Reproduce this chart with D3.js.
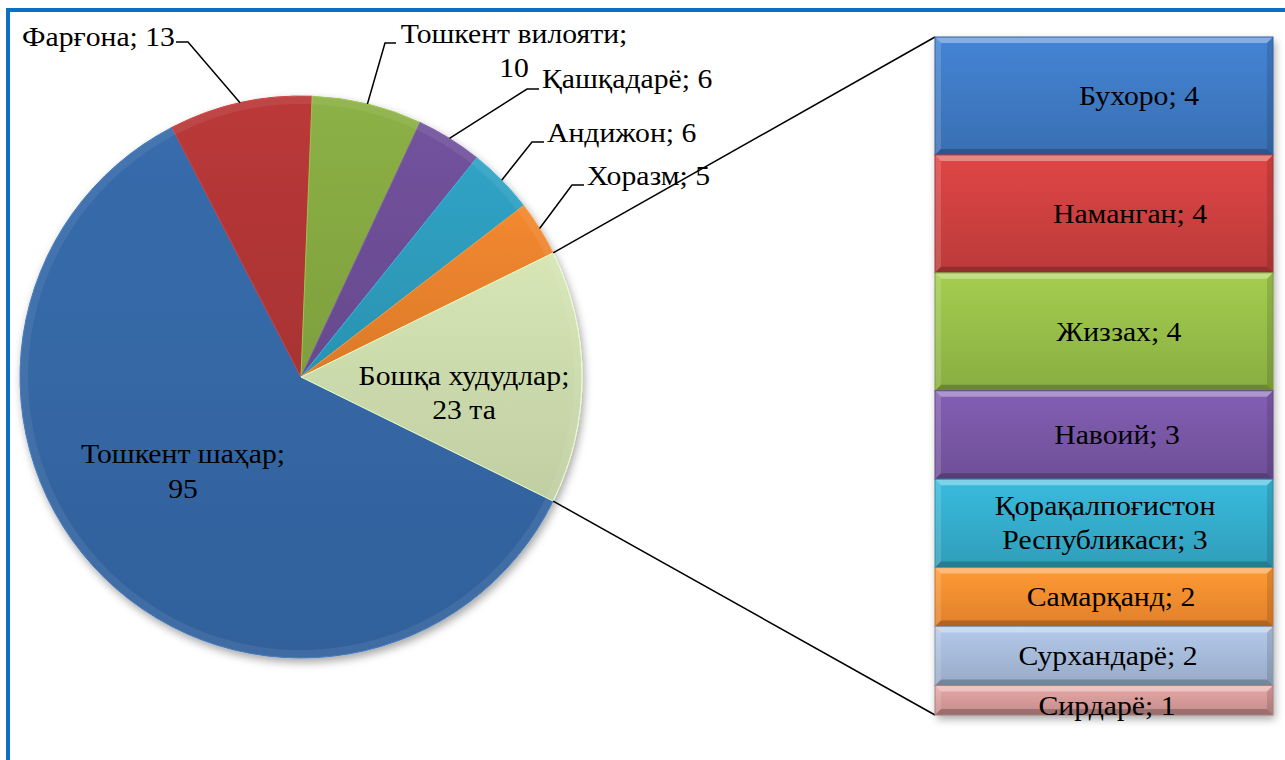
<!DOCTYPE html>
<html>
<head>
<meta charset="utf-8">
<script src="https://cdn.jsdelivr.net/npm/d3@7"></script>
<style>
  body { margin: 0; background: #fff; }
  svg text { font-family: "Liberation Serif", "Times New Roman", serif; fill: #000; }
</style>
</head>
<body>
<svg id="chart" width="1285" height="760"></svg>
<script>
// pie slices (main regions)
const pieNames = ["Тошкент шаҳар", "Фарғона", "Тошкент вилояти", "Қашқадарё", "Андижон", "Хоразм"];
const pieValues = [95, 13, 10, 6, 6, 5];
const pieColors = ["#3567a5", "#b33636", "#86aa42", "#6d4f96", "#2e9cbd", "#e9822d"];

// secondary bar (the "other" slice broken down)
const otherName = "Бошқа худудлар";
const otherText = "23 та";
const otherColor = "#cddcad";
const barNames = ["Бухоро", "Наманган", "Жиззах", "Навоий", "Қорақалпоғистон Республикаси", "Самарқанд", "Сурхандарё", "Сирдарё"];
const barValues = [4, 4, 4, 3, 3, 2, 2, 1];
const barColors = ["#3f7bc6", "#d04140", "#99c04a", "#7a58a8", "#35afcf", "#f98f30", "#a8bcdc", "#d89c9b"];

// label layout (where Excel put them)
const outerLabels = [
  null,
  { lines: ["Фарғона; 13"], x: 22, y: 46, anchor: "start", elbow: [[188, 42], [176, 42]] },
  { lines: ["Тошкент вилояти;", "10"], x: 514, y: 43, anchor: "middle", elbow: [[385, 43], [396, 43]] },
  { lines: ["Қашқадарё; 6"], x: 542, y: 88, anchor: "start", elbow: [[527, 89], [539, 89]] },
  { lines: ["Андижон; 6"], x: 547, y: 142, anchor: "start", elbow: [[532, 142], [544, 142]] },
  { lines: ["Хоразм; 5"], x: 587, y: 185, anchor: "start", elbow: [[572, 185], [584, 185]] }
];
const innerLabelPos = [[183, 463], [464, 385]];
const barLabelDx = [35, 26, 15, 13, 1, 7, 4, 3];

const fontSize = 27, stretch = 1.1;
const svg = d3.select("#chart");
const defs = svg.append("defs");

const shadow = defs.append("filter").attr("id", "shadow")
  .attr("x", "-10%").attr("y", "-10%").attr("width", "130%").attr("height", "130%");
shadow.append("feDropShadow").attr("dx", 2).attr("dy", 4).attr("stdDeviation", 4)
  .attr("flood-color", "#000").attr("flood-opacity", 0.35);

function gradient(id, c, light, dark) {
  const g = defs.append("linearGradient").attr("id", id)
    .attr("x1", 0).attr("y1", 0).attr("x2", 0).attr("y2", 1);
  g.append("stop").attr("offset", "0%").attr("stop-color", d3.color(c).brighter(light));
  g.append("stop").attr("offset", "100%").attr("stop-color", d3.color(c).darker(dark));
  return `url(#${id})`;
}

// frame (only top and left edges are in view)
svg.append("path").attr("d", "M8,760 V10 H1285")
  .attr("fill", "none").attr("stroke", "#0b6fc2").attr("stroke-width", 4);

function addText(g, lines, x, y, anchor, lh) {
  const t = g.append("text")
    .attr("transform", `translate(${x},${y}) scale(${stretch},1)`)
    .attr("text-anchor", anchor)
    .style("font-size", fontSize + "px");
  lines.forEach((s, i) => t.append("tspan").attr("x", 0).attr("y", i * lh).text(s));
  return t;
}

// ---- pie ----
const cx = 301, cy = 377, r = 281;
const otherValue = d3.sum(barValues);
const total = d3.sum(pieValues) + otherValue;
const otherSpan = 2 * Math.PI * otherValue / total;
const start = Math.PI / 2 + otherSpan / 2;

const pieData = pieNames.map((n, i) => ({ name: n, value: pieValues[i], color: pieColors[i] }))
  .concat([{ name: otherName, value: otherValue, color: otherColor }]);

const pie = d3.pie().sort(null).value(d => d.value).startAngle(start).endAngle(start + 2 * Math.PI);
const arcs = pie(pieData);
const arc = d3.arc().innerRadius(0).outerRadius(r);
const rim = d3.arc().innerRadius(r - 8).outerRadius(r);

const pg = svg.append("g").attr("transform", `translate(${cx},${cy})`);
const slices = pg.append("g").attr("filter", "url(#shadow)");
slices.selectAll("path.slice").data(arcs).join("path")
  .attr("class", "slice")
  .attr("d", arc)
  .attr("fill", (d, i) => gradient("pg" + i, d.data.color, 0.12, 0.18))
  .attr("stroke", (d) => d3.color(d.data.color).brighter(0.4))
  .attr("stroke-width", 1);
// bevel rim
pg.selectAll("path.rim").data(arcs).join("path")
  .attr("class", "rim")
  .attr("d", rim)
  .attr("fill", "#fff").attr("opacity", 0.07);

// leader lines + outer labels
const lg = svg.append("g");
arcs.forEach((d, i) => {
  const L = outerLabels[i];
  if (!L) return;
  const a = (d.startAngle + d.endAngle) / 2;
  const px = cx + r * Math.sin(a), py = cy - r * Math.cos(a);
  const pts = [[px, py]].concat(L.elbow);
  lg.append("path").attr("d", d3.line()(pts))
    .attr("fill", "none").attr("stroke", "#000").attr("stroke-width", 1.5);
  addText(lg, L.lines, L.x, L.y, L.anchor, 34);
});

// inner labels
addText(svg, [pieNames[0] + ";", String(pieValues[0])], innerLabelPos[0][0], innerLabelPos[0][1], "middle", 35);
addText(svg, [otherName + ";", otherText], innerLabelPos[1][0], innerLabelPos[1][1], "middle", 34);

// ---- bar of pie ----
const bx0 = 935, bx1 = 1273;
const y = d3.scaleLinear().domain([0, otherValue]).range([37, 715]);
const cum = d3.cumsum(barValues);
const bars = barNames.map((n, i) => ({ name: n, value: barValues[i], color: barColors[i], y0: cum[i] - barValues[i], y1: cum[i] }));

// connector lines from the other slice to the bar
const oa = arcs[arcs.length - 1];
const p0 = [cx + r * Math.sin(oa.startAngle), cy - r * Math.cos(oa.startAngle)];
const p1 = [cx + r * Math.sin(oa.endAngle), cy - r * Math.cos(oa.endAngle)];
svg.append("path").attr("d", d3.line()([p0, [bx0, y(0)]]))
  .attr("stroke", "#000").attr("stroke-width", 1.5).attr("fill", "none");
svg.append("path").attr("d", d3.line()([p1, [bx0, y(otherValue)]]))
  .attr("stroke", "#000").attr("stroke-width", 1.5).attr("fill", "none");

const bg = svg.append("g");
bg.append("rect").attr("x", bx0).attr("y", y(0)).attr("width", bx1 - bx0).attr("height", y(otherValue) - y(0))
  .attr("fill", "#fff").attr("filter", "url(#shadow)");
const seg = bg.selectAll("g.seg").data(bars).join("g").attr("class", "seg");
seg.append("rect")
  .attr("x", bx0).attr("y", d => y(d.y0))
  .attr("width", bx1 - bx0).attr("height", d => y(d.y1) - y(d.y0))
  .attr("fill", (d, i) => gradient("bg" + i, d.color, 0.2, 0.3));
// bevel: light top/left, dark bottom/right
const bv = 6;
seg.append("path").attr("fill", "#fff").attr("opacity", 0.35)
  .attr("d", d => { const t = y(d.y0); return `M${bx0},${t}H${bx1}L${bx1 - bv},${t + bv}H${bx0 + bv}Z`; });
seg.append("path").attr("fill", "#fff").attr("opacity", 0.15)
  .attr("d", d => { const t = y(d.y0), b = y(d.y1); return `M${bx0},${t}L${bx0 + bv},${t + bv}V${b - bv}L${bx0},${b}Z`; });
seg.append("path").attr("fill", "#000").attr("opacity", 0.22)
  .attr("d", d => { const t = y(d.y0), b = y(d.y1); return `M${bx0},${b}H${bx1}L${bx1 - bv},${b - bv}H${bx0 + bv}Z`; });
seg.append("path").attr("fill", "#000").attr("opacity", 0.12)
  .attr("d", d => { const t = y(d.y0), b = y(d.y1); return `M${bx1},${t}L${bx1 - bv},${t + bv}V${b - bv}L${bx1},${b}Z`; });
seg.append("rect")
  .attr("x", bx0).attr("y", d => y(d.y0))
  .attr("width", bx1 - bx0).attr("height", d => y(d.y1) - y(d.y0))
  .attr("fill", "none").attr("stroke", d => d3.color(d.color).darker(0.6)).attr("stroke-width", 1);

bars.forEach((d, i) => {
  const mid = (y(d.y0) + y(d.y1)) / 2;
  const cxl = (bx0 + bx1) / 2 + barLabelDx[i];
  const words = d.name.split(" ");
  const lines = words.length > 1 ? [words[0], words.slice(1).join(" ") + "; " + d.value] : [d.name + "; " + d.value];
  const lh = 34;
  const top = mid - (lines.length - 1) * lh / 2 + fontSize * 0.33 + (d.value === 1 ? 6 : 0);
  addText(bg, lines, cxl, top, "middle", lh);
});
</script>
</body>
</html>
